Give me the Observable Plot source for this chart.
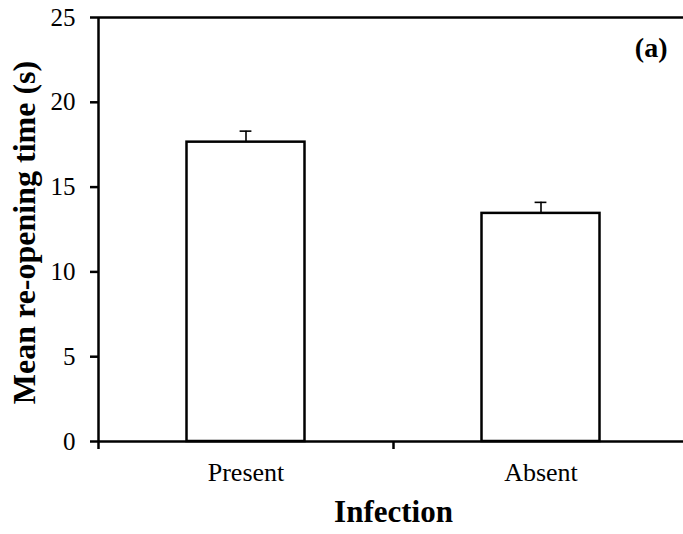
<!DOCTYPE html>
<html><head>
<meta charset="utf-8">
<script src="https://cdn.jsdelivr.net/npm/d3@7"></script>
<script src="https://cdn.jsdelivr.net/npm/@observablehq/plot@0.6"></script>
<style>body{margin:0;background:#fff}</style>
</head><body><div id="chart"></div>
<script>
const categories = ["Present", "Absent"];
const means = [17.65, 13.45];
const errors = [0.65, 0.65];
const yTicks = [0, 5, 10, 15, 20, 25];
const xBoundaries = [0, 1, 2];
const yTitle = "Mean re-opening time (s)";
const xTitle = "Infection";
const panelLabel = "(a)";

const data = categories.map((c, i) => ({c, i, m: means[i], top: means[i] + errors[i]}));
const serif = "'Liberation Serif', 'Times New Roman', Times, serif";

const chart = Plot.plot({
  width: 683, height: 534,
  marginLeft: 98, marginTop: 17, marginBottom: 93, marginRight: -5,
  style: {fontFamily: serif, background: "#fff", color: "#000", overflow: "hidden"},
  x: {type: "linear", domain: [0, 2], axis: null},
  y: {domain: [0, 25], axis: null},
  marks: [
    Plot.rectY(data, {x1: d => d.i + 0.3, x2: d => d.i + 0.7, y: "m", fill: "white", stroke: "black", strokeWidth: 2.5}),
    Plot.ruleX(data, {x: d => d.i + 0.5, y1: "m", y2: "top", stroke: "black", strokeWidth: 1.6}),
    Plot.ruleY(data, {y: "top", x1: d => d.i + 0.48, x2: d => d.i + 0.52, stroke: "black", strokeWidth: 1.6}),
    Plot.axisY({ticks: yTicks, tickSize: 8, tickPadding: 15, fontSize: 25, strokeWidth: 2.5, label: null, tickFormat: d => d}),
    Plot.axisX({ticks: xBoundaries, tickSize: 8, tickFormat: () => "", strokeWidth: 2.5, label: null}),
    Plot.ruleX([0], {stroke: "black", strokeWidth: 2.5}),
    Plot.ruleY([0], {stroke: "black", strokeWidth: 2.5}),
    Plot.ruleY([25], {stroke: "black", strokeWidth: 2.5}),
    Plot.text(data, {x: d => d.i + 0.5, y: 0, text: "c", dy: 31, fontSize: 26, fill: "black"}),
    Plot.text([xTitle], {frameAnchor: "bottom", lineAnchor: "middle", dy: 71, fontSize: 31, fontWeight: "bold", fill: "black"}),
    Plot.text([yTitle], {frameAnchor: "left", textAnchor: "middle", lineAnchor: "middle", dx: -74, dy: 3, rotate: -90, fontSize: 32, fontWeight: "bold", fill: "black"}),
    Plot.text([panelLabel], {frameAnchor: "top-right", lineAnchor: "middle", dx: -21, dy: 31, textAnchor: "end", fontSize: 28, fontWeight: "bold", fill: "black"})
  ]
});
document.getElementById("chart").appendChild(chart);
</script>
</body></html>
